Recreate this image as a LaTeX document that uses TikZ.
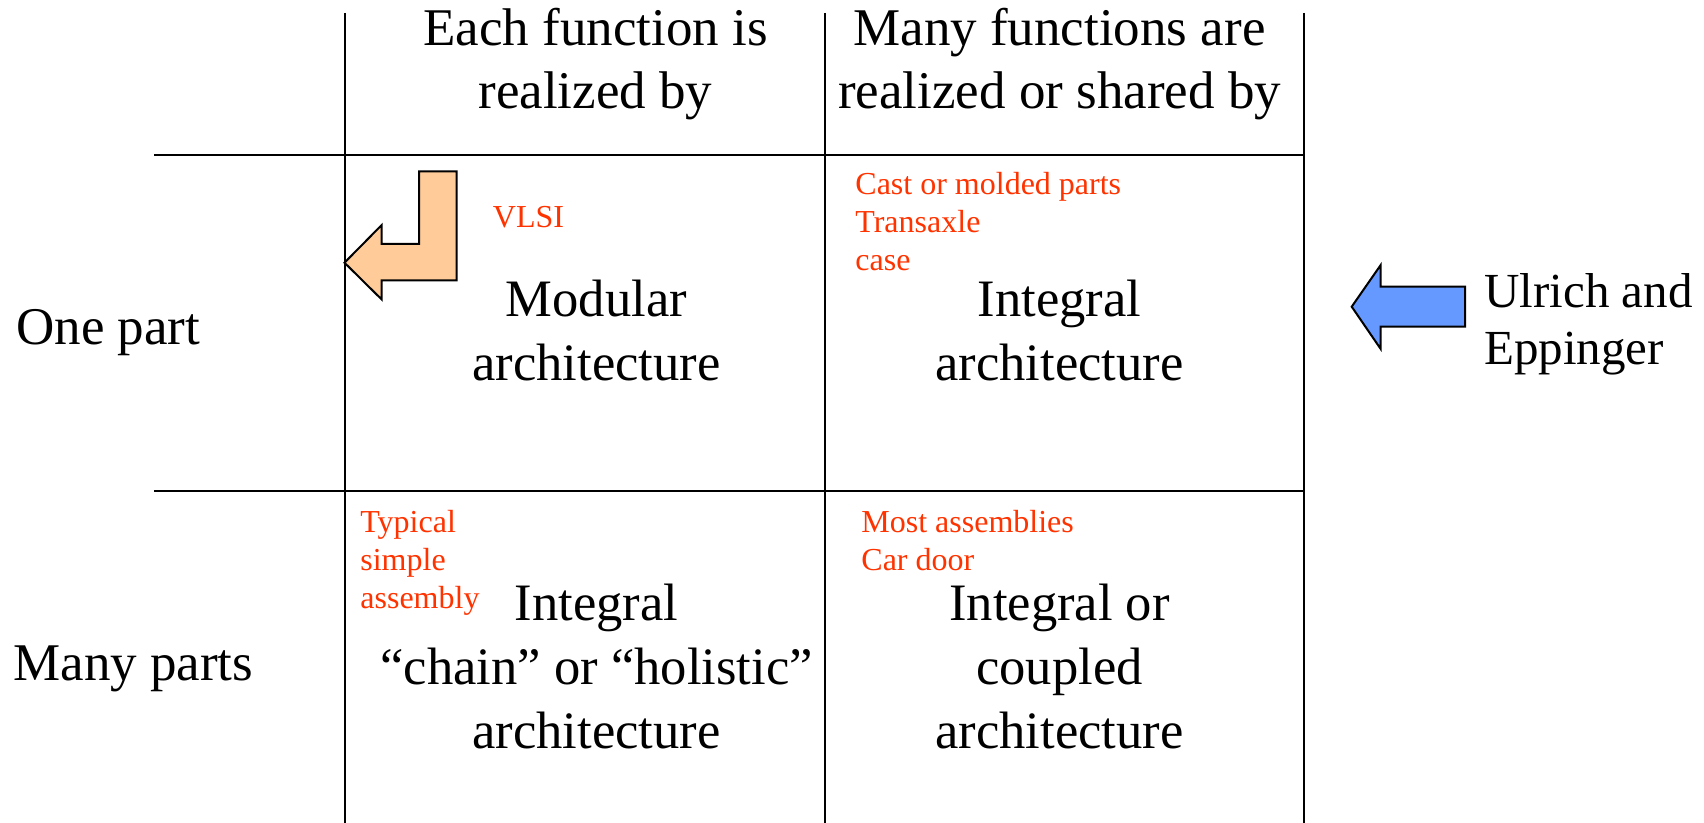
\documentclass[tikz,border=0pt]{standalone}
\usepackage{fontspec}
\setmainfont{Liberation Serif}
\definecolor{notered}{HTML}{FF3300}
\definecolor{orangefill}{HTML}{FFCC99}
\definecolor{bluefill}{HTML}{6699FF}
\begin{document}
\begin{tikzpicture}[x=0.5pt,y=-0.5pt,
  gridline/.style={line width=1pt,black},
  head/.style={font=\fontsize{26.5}{31.5}\selectfont,align=center,inner sep=0pt,anchor=base},
  cell/.style={font=\fontsize{26.3}{32}\selectfont,align=center,inner sep=0pt,anchor=base},
  rowlab/.style={font=\fontsize{26.5}{31}\selectfont,align=left,inner sep=0pt,anchor=base west},
  note/.style={font=\fontsize{16}{19}\selectfont,text=notered,align=left,inner sep=0pt,anchor=base west},
  arrowshape/.style={line width=1pt,draw=black,line join=miter}]
\useasboundingbox (0,0) rectangle (1704,823);
% grid
\draw[gridline] (344.5,13) -- (344.5,823);
\draw[gridline] (825,13) -- (825,823);
\draw[gridline] (1303.5,13) -- (1303.5,823);
\draw[gridline] (154,155) -- (1303.5,155);
\draw[gridline] (154,491) -- (1303.5,491);
% arrows
\filldraw[arrowshape,fill=orangefill] (456.5,171.5) -- (419,171.5) -- (419,244) -- (381.7,244) -- (381.7,225) -- (344.5,262.7) -- (381.7,299.5) -- (381.7,280.5) -- (456.5,280.5) -- cycle;
\filldraw[arrowshape,fill=bluefill] (1465,286.7) -- (1380.7,286.7) -- (1380.7,265) -- (1351.7,306.7) -- (1380.7,349) -- (1380.7,326.7) -- (1465,326.7) -- cycle;
% headers
\node[head] (h1) at (595.5,109) {Each function is\\realized by};
\node[head] (h2) at (1059.5,109) {Many functions are\\realized or shared by};
% row labels
\node[rowlab] (r1) at (16,345) {One part};
\node[rowlab] (r2) at (13,680) {Many parts};
% cells
\node[cell] (c1) at (596.5,381) {Modular\\architecture};
\node[cell] (c2) at (1059.5,381) {Integral\\architecture};
\node[cell] (c3) at (596.5,748) {Integral\\“chain” or “holistic”\\architecture};
\node[cell] (c4) at (1059.5,748) {Integral or\\coupled\\architecture};
% notes
\node[note] (n1) at (492.5,228) {VLSI};
\node[note] (n2) at (855,271) {Cast or molded parts\\Transaxle\\case};
\node[note] (n3) at (360,609) {Typical\\simple\\assembly};
\node[note] (n4) at (861,571) {Most assemblies\\Car door};
% side label
\node[font=\fontsize{24.5}{28.5}\selectfont,align=left,inner sep=0pt,anchor=base west] (ue) at (1484,365) {Ulrich and\\Eppinger};
\end{tikzpicture}
\end{document}
